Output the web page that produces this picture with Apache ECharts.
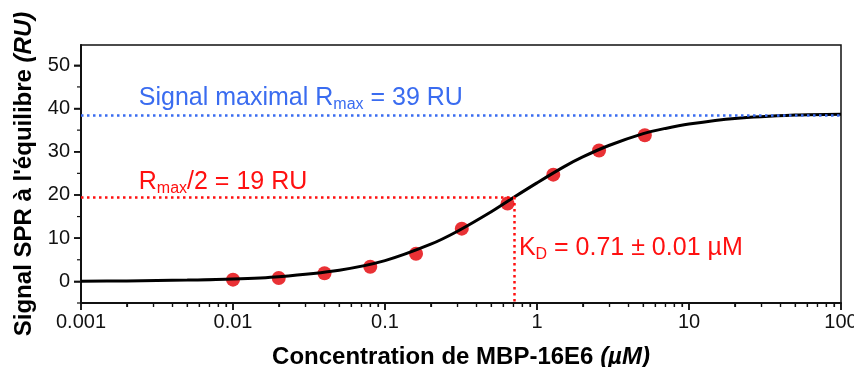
<!DOCTYPE html>
<html><head><meta charset="utf-8">
<script src="https://cdn.jsdelivr.net/npm/echarts@6/dist/echarts.min.js"></script>
<style>html,body{margin:0;padding:0;background:#fff}#c{width:854px;height:367px}</style>
</head><body><div id="c"></div>
<script>
// Measured points (concentration µM, signal RU)
const concX = [0.01, 0.02, 0.04, 0.08, 0.16, 0.32, 0.64, 1.28, 2.56, 5.12];
const signalY = [0.4, 0.8, 1.9, 3.4, 6.4, 12.2, 18.0, 24.7, 30.3, 33.8];
// Fitted curve
const curveX = [0.001, 0.002, 0.005, 0.01, 0.02, 0.05, 0.1, 0.2, 0.3, 0.5, 0.7, 1, 1.5, 2, 3, 5, 7, 10, 20, 50, 100];
const curveY = [0.05, 0.1, 0.3, 0.55, 1.1, 2.6, 4.8, 8.6, 11.6, 16.1, 19.4, 22.8, 26.5, 28.8, 31.5, 34.2, 35.4, 36.4, 37.7, 38.5, 38.7];
// Reference values
const rmaxLine = 38.5;
const halfRmax = 19.5;
const kd = 0.71;
// Tick labels and tick positions
const xTickValues = [0.001, 0.01, 0.1, 1, 10, 100];
const xTickLabels = ['0.001', '0.01', '0.1', '1', '10', '100'];
const xMinorTicks = [0.002,0.003,0.004,0.005,0.006,0.007,0.008,0.009,0.02,0.03,0.04,0.05,0.06,0.07,0.08,0.09,0.2,0.3,0.4,0.5,0.6,0.7,0.8,0.9,2,3,4,5,6,7,8,9,20,30,40,50,60,70,80,90];
const yTickValues = [0, 10, 20, 30, 40, 50];
const yMinorTicks = [-5, 5, 15, 25, 35, 45];

const FONT = '"Liberation Sans", Arial, sans-serif';
const BLUE = '#3a6cf0';
const RED = '#ff1010';
const DOT = '#e8262a';
const ANN = 25, SUB = 16;
const X_MIN = 0.001, X_MAX = 100;
const Y_MIN = -5, Y_MAX = 54.7;

const chart = echarts.init(document.getElementById('c'), null, {renderer: 'canvas'});
const subRich = c => ({s: {fontFamily: FONT, fontSize: SUB, color: c, verticalAlign: 'bottom', padding: [12, 0, 0, 0]}});

// tick marks drawn through the axes' own scales
const tickSeries = (vals, onX, len, width) => ({
  type: 'custom', silent: true, clip: false, z: 1,
  xAxisIndex: 0, yAxisIndex: 0,
  data: vals.map(v => onX ? [v, Y_MIN] : [X_MIN, v]),
  encode: {x: 0, y: 1},
  renderItem: (params, api) => {
    const p = api.coord([api.value(0), api.value(1)]);
    return {
      type: 'line',
      shape: onX ? {x1: p[0], y1: p[1], x2: p[0], y2: p[1] + len} : {x1: p[0], y1: p[1], x2: p[0] - len, y2: p[1]},
      style: {stroke: '#111', lineWidth: width}
    };
  }
});

chart.setOption({
  animation: false,
  backgroundColor: '#fff',
  grid: {left: 81, right: 13, top: 45, bottom: 64, containLabel: false, outerBoundsMode: 'none',
    show: true, borderColor: '#111', borderWidth: 1.5, backgroundColor: 'transparent'},
  xAxis: [{
    type: 'log', logBase: 10, min: X_MIN, max: X_MAX,
    name: 'Concentration de MBP-16E6 {i|(µM)}', nameLocation: 'middle', nameGap: 42,
    nameTextStyle: {fontFamily: FONT, fontWeight: 'bold', fontSize: 24, color: '#000',
      rich: {i: {fontFamily: FONT, fontWeight: 'bold', fontStyle: 'italic', fontSize: 24, color: '#000'}}},
    axisLine: {show: true, onZero: false, lineStyle: {color: '#111', width: 2}},
    axisTick: {show: true, length: 7, lineStyle: {color: '#111', width: 1.5}},
    minorTick: {show: true, splitNumber: 9, length: 4, lineStyle: {color: '#111', width: 1.2}},
    axisLabel: {show: true, fontFamily: FONT, fontSize: 20, color: '#111', margin: 9,
      formatter: v => { const i = xTickValues.findIndex(t => Math.abs(t - v) / t < 1e-6); return i >= 0 ? xTickLabels[i] : ''; }},
    splitLine: {show: false}
  }],
  yAxis: [{
    type: 'value', min: Y_MIN, max: Y_MAX,
    name: 'Signal SPR à l\'équilibre {i|(RU)}', nameLocation: 'middle', nameGap: 44,
    nameTextStyle: {fontFamily: FONT, fontWeight: 'bold', fontSize: 24, color: '#000',
      rich: {i: {fontFamily: FONT, fontWeight: 'bold', fontStyle: 'italic', fontSize: 24, color: '#000'}}},
    axisLine: {show: true, onZero: false, lineStyle: {color: '#111', width: 2}},
    axisTick: {show: true, length: 7, lineStyle: {color: '#111', width: 1.5}, customValues: yTickValues},
    axisLabel: {show: true, fontFamily: FONT, fontSize: 20, color: '#111', margin: 11, customValues: yTickValues},
    splitLine: {show: false}
  }],
  series: [
    tickSeries(xTickValues, true, 7, 1.5),
    tickSeries(xMinorTicks, true, 4, 1.2),
    tickSeries(yTickValues, false, 7, 1.5),
    tickSeries(yMinorTicks, false, 4, 1.2),
    {
      name: 'ref', type: 'line', data: [], xAxisIndex: 0, yAxisIndex: 0, silent: true,
      markLine: {
        silent: true, symbol: 'none', label: {show: false},
        data: [
          [{coord: [X_MIN, rmaxLine], lineStyle: {color: BLUE, type: [2.5, 3.5], width: 2.5}}, {coord: [X_MAX, rmaxLine]}],
          [{coord: [X_MIN, halfRmax], lineStyle: {color: RED, type: [2.5, 3.5], width: 2.5}}, {coord: [kd, halfRmax]}],
          [{coord: [kd, halfRmax], lineStyle: {color: RED, type: [2.5, 3.5], width: 2.5}}, {coord: [kd, Y_MIN]}]
        ]
      },
      markPoint: {
        silent: true, symbol: 'circle', symbolSize: 0,
        data: [
          {coord: [0.0024, 42.4], label: {show: true, position: 'right', distance: 0,
            formatter: 'Signal maximal R{s|max} = 39 RU',
            fontFamily: FONT, fontSize: ANN, color: BLUE, rich: subRich(BLUE)}},
          {coord: [0.0024, 22.9], label: {show: true, position: 'right', distance: 0,
            formatter: 'R{s|max}/2 = 19 RU',
            fontFamily: FONT, fontSize: ANN, color: RED, rich: subRich(RED)}},
          {coord: [0.76, 7.7], label: {show: true, position: 'right', distance: 0,
            formatter: 'K{s|D} = 0.71 ± 0.01 µM',
            fontFamily: FONT, fontSize: ANN, color: RED, rich: subRich(RED)}}
        ]
      }
    },
    {
      name: 'fit', type: 'line', smooth: 0.3, showSymbol: false, xAxisIndex: 0, yAxisIndex: 0,
      data: curveX.map((x, i) => [x, curveY[i]]),
      lineStyle: {color: '#000', width: 3}, z: 3
    },
    {
      name: 'points', type: 'scatter', xAxisIndex: 0, yAxisIndex: 0,
      data: concX.map((x, i) => [x, signalY[i]]),
      symbol: 'circle', symbolSize: 14, itemStyle: {color: DOT, opacity: 0.95}, z: 2
    }
  ]
});
</script>
</body></html>
